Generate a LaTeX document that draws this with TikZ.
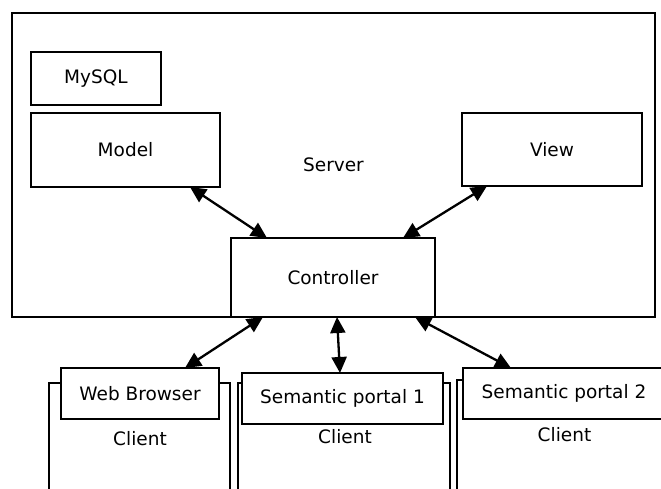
\documentclass[tikz,border=0pt]{standalone}
\usepackage{fontspec}
\setmainfont{DejaVu Sans}
\usetikzlibrary{arrows.meta,calc}
\begin{document}
\begin{tikzpicture}[x=1pt,y=-1pt,
  box/.style={draw,line width=2.3pt,fill=white,inner sep=0pt,outer sep=0pt,font=\fontsize{18.5}{21}\selectfont},
  lbl/.style={inner sep=0pt,font=\fontsize{18.5}{21}\selectfont},
  link/.style={line width=2.3pt,{Triangle[length=16pt,width=15pt]}-{Triangle[length=16pt,width=15pt]}}]
\clip (0,0) rectangle (661,489);
\fill[white] (0,0) rectangle (661,489);
% server
\node[box,minimum width=643pt,minimum height=304pt] (server) at (333.5,165) {Server};
\node[box,minimum width=130pt,minimum height=53pt] (mysql) at (96,78.5) {MySQL};
\node[box,minimum width=189pt,minimum height=74pt] (model) at (125.5,150) {Model};
\node[box,minimum width=180pt,minimum height=73pt] (view) at (552,149.5) {View};
\node[box,minimum width=204pt,minimum height=79pt] (controller) at (333,277.5) {Controller};
% clients
\node[box,minimum width=181pt,minimum height=140pt,anchor=north west] (client1) at (49,383) {};
\node[box,minimum width=212pt,minimum height=140pt,anchor=north west] (client2) at (238,383) {};
\node[box,minimum width=240pt,minimum height=140pt,anchor=north west] (client3) at (457,380) {};
\node[box,minimum width=158pt,minimum height=51pt,anchor=north west] (wb) at (61,368) {Web Browser};
\node[box,minimum width=201pt,minimum height=51pt,anchor=north west] (sp1) at (242,373) {Semantic portal 1};
\node[box,minimum width=202pt,minimum height=51pt,anchor=north west] (sp2) at (463,368) {Semantic portal 2};
\node[lbl] (c1l) at (140,439) {Client};
\node[lbl] (c2l) at (345,437) {Client};
\node[lbl] (c3l) at (564.5,435) {Client};
% arrows
\draw[link] ([xshift=64.5pt]model.south) -- ([xshift=-66pt]controller.north);
\draw[link] ([xshift=-65pt]view.south) -- ([xshift=70pt]controller.north);
\draw[link] ([xshift=-70pt]controller.south) -- ([xshift=45pt]wb.north);
\draw[link] ([xshift=4pt]controller.south) -- ([xshift=-2.5pt]sp1.north);
\draw[link] ([xshift=82pt]controller.south) -- ([xshift=-53pt]sp2.north);
\end{tikzpicture}
\end{document}
